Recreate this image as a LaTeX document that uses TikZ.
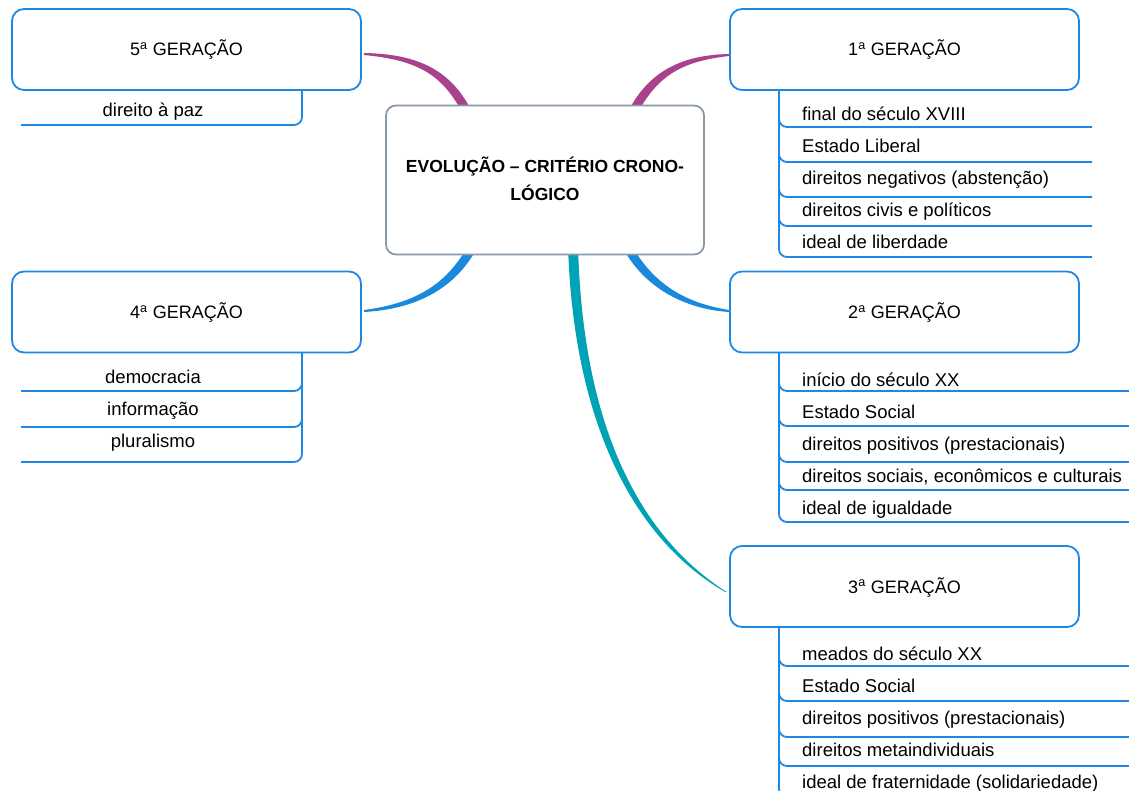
\documentclass[tikz,border=0pt]{standalone}
\usepackage{fontspec}
\setmainfont{Liberation Sans}
\definecolor{mag}{RGB}{170,65,140}
\definecolor{cblue}{RGB}{24,137,219}
\definecolor{teal2}{RGB}{0,163,181}
\definecolor{bord}{RGB}{30,136,229}
\definecolor{cgray}{RGB}{138,153,170}
\begin{document}
\begin{tikzpicture}[x=1pt,y=-1pt,
  gbox/.style={draw=bord,line width=1.8pt,fill=white,rounded corners=12pt,minimum width=349pt,minimum height=81pt,inner sep=0pt,text height=13pt,text depth=0pt,font=\fontsize{18}{20}\selectfont},
  cbox/.style={draw=cgray,line width=1.8pt,fill=white,rounded corners=10pt,minimum width=318pt,minimum height=149pt,inner sep=0pt,align=center,text height=41pt,text depth=0pt,font=\fontsize{17.5}{28}\selectfont\bfseries},
  item/.style={anchor=base west,inner sep=0pt,font=\fontsize{18.5}{20}\selectfont},
  litem/.style={anchor=base,inner sep=0pt,font=\fontsize{18.5}{20}\selectfont},
  ul/.style={draw=bord,line width=1.8pt,rounded corners=8pt}]
\useasboundingbox (0,0) rectangle (1129,791);
\fill[white] (0,0) rectangle (1129,791);
% tapered branches
\fill[mag] (471.0,109.9) .. controls (450.0,68.9) and (416.2,54) .. (364.1,53) -- (363.9,55) .. controls (415.8,60) and (442,73.1) .. (463,114.1) -- cycle;
\fill[mag] (637,114.1) .. controls (658,74.1) and (684.2,61) .. (729.1,56) -- (728.9,54) .. controls (683.8,55) and (650,69.9) .. (629,109.9) -- cycle;
\fill[cblue] (469,243.9) .. controls (448,282.9) and (417.7,303) .. (363.9,310) -- (364.1,312) .. controls (418.3,309) and (456,287.1) .. (477,248.1) -- cycle;
\fill[cblue] (623,248.1) .. controls (644,287.1) and (683.7,309) .. (728.9,312) -- (729.1,310) .. controls (684.3,303) and (652,282.9) .. (631,243.9) -- cycle;
\fill[teal2] (568,245.1) .. controls (573.5,430.1) and (638.5,542.6) .. (725.8,592.3) -- (726.2,591.7) .. controls (641.5,537.4) and (582.5,429.9) .. (578,244.9) -- cycle;
% central node
\node[cbox] (c) at (545,180) {EVOLUÇÃO – CRITÉRIO CRONO-\\LÓGICO};
% generation boxes
\node[gbox] (g5) at (186.5,49.5) {5\textsuperscript{a} GERAÇÃO};
\node[gbox] (g1) at (904.5,49.5) {1\textsuperscript{a} GERAÇÃO};
\node[gbox] (g4) at (186.5,312) {4\textsuperscript{a} GERAÇÃO};
\node[gbox] (g2) at (904.5,312) {2\textsuperscript{a} GERAÇÃO};
\node[gbox] (g3) at (904.5,586.5) {3\textsuperscript{a} GERAÇÃO};
% 5a list
\draw[ul] (302,90) |- (21,125);
\node[litem] (i51) at (153,117) {direito à paz};
% 4a list
\draw[ul] (302,353) |- (21,391);
\draw[ul] (302,353) |- (21,427);
\draw[ul] (302,353) |- (21,462);
\node[litem] (i41) at (153,383) {democracia};
\node[litem] (i42) at (153,415) {informação};
\node[litem] (i43) at (153,447) {pluralismo};
% 1a list
\draw[ul] (779,90) |- (1092,127);
\draw[ul] (779,90) |- (1092,162);
\draw[ul] (779,90) |- (1092,197);
\draw[ul] (779,90) |- (1092,226);
\draw[ul] (779,90) |- (1092,257);
\node[item] (i11) at (802,121) {final do século XVIII};
\node[item] (i12) at (802,153) {Estado Liberal};
\node[item] (i13) at (802,185) {direitos negativos (abstenção)};
\node[item] (i14) at (802,217) {direitos civis e políticos};
\node[item] (i15) at (802,249) {ideal de liberdade};
% 2a list
\draw[ul] (779,353) |- (1140,391);
\draw[ul] (779,353) |- (1140,426);
\draw[ul] (779,353) |- (1140,462);
\draw[ul] (779,353) |- (1140,490);
\draw[ul] (779,353) |- (1140,522);
\node[item] (i21) at (802,386) {início do século XX};
\node[item] (i22) at (802,418) {Estado Social};
\node[item] (i23) at (802,450) {direitos positivos (prestacionais)};
\node[item] (i24) at (802,482) {direitos sociais, econômicos e culturais};
\node[item] (i25) at (802,514) {ideal de igualdade};
% 3a list
\draw[ul] (779,627) |- (1140,666);
\draw[ul] (779,627) |- (1140,701);
\draw[ul] (779,627) |- (1140,737);
\draw[ul] (779,627) |- (1140,766);
\draw[ul] (779,627) |- (1140,797);
\node[item] (i31) at (802,660) {meados do século XX};
\node[item] (i32) at (802,692) {Estado Social};
\node[item] (i33) at (802,724) {direitos positivos (prestacionais)};
\node[item] (i34) at (802,756) {direitos metaindividuais};
\node[item] (i35) at (802,788) {ideal de fraternidade (solidariedade)};
\end{tikzpicture}
\end{document}
